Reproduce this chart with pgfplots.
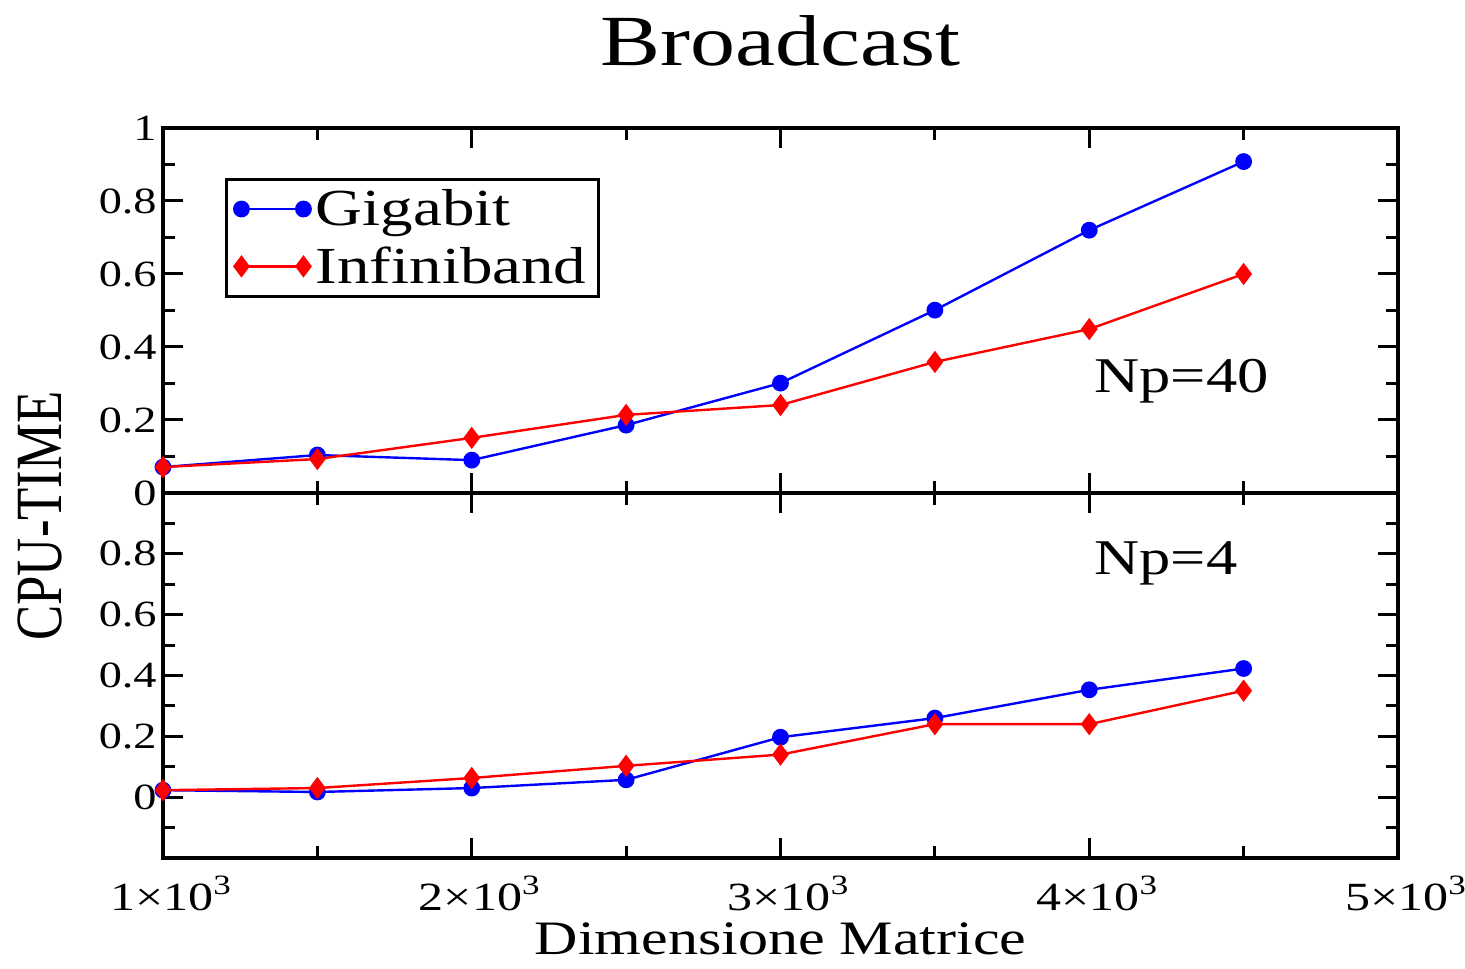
\documentclass[border=0pt]{standalone}
\usepackage{fontspec}
\setmainfont{Liberation Serif}[FakeStretch=1.25]
\newfontfamily\ylabfont{Liberation Serif}[FakeStretch=0.8]
\usepackage{pgfplots}
\pgfplotsset{compat=1.18}
\pgfplotsset{
  panel/.style={
    scale only axis, width=617.5pt, height=182.5pt,
    xmin=1000, xmax=5000,
    xtick={1000,2000,3000,4000,5000},
    minor xtick={1500,2500,3500,4500},
    tick align=inside, xtick pos=both, ytick pos=both,
    major tick length=10pt, minor tick length=6pt,
    axis line style={line width=1.8pt},
    every tick/.style={black, line width=1.5pt},
    /pgf/number format/assume math mode=true,
    yticklabel style={font=\fontsize{18.5}{20}\selectfont, anchor=east, inner sep=1pt, xshift=-2pt},
    clip=false,
  },
  gig/.style={blue, line width=1.2pt, mark=*, mark size=3.6pt, mark options={fill=blue, draw=blue}},
  inf/.style={red, line width=1.2pt, mark=diamond*, mark size=4.6pt, mark options={fill=red, draw=red}},
}
\begin{document}
\begin{tikzpicture}
% bottom panel (Np=4)
\begin{axis}[panel, at={(0pt,0pt)}, anchor=south west,
  ymin=-0.2, ymax=1,
  ytick={0,0.2,0.4,0.6,0.8},
  minor ytick={-0.1,0.1,0.3,0.5,0.7,0.9},
  xticklabels={1×10\textsuperscript{3},2×10\textsuperscript{3},3×10\textsuperscript{3},4×10\textsuperscript{3},5×10\textsuperscript{3}},
  xticklabel style={font=\fontsize{20}{22}\selectfont, anchor=base, inner sep=0pt, text depth=0pt, yshift=-26pt, xshift=4pt},
  xlabel={Dimensione Matrice},
  xlabel style={font=\fontsize{24}{26}\selectfont, at={(0.5,0)}, anchor=base, inner sep=0pt, text depth=0pt, yshift=-48pt},
]
\addplot[gig] coordinates {(1000,0.023)(1500,0.017)(2000,0.03)(2500,0.057)(3000,0.197)(3500,0.26)(4000,0.353)(4500,0.423)};
\addplot[inf] coordinates {(1000,0.023)(1500,0.03)(2000,0.063)(2500,0.103)(3000,0.14)(3500,0.24)(4000,0.24)(4500,0.35)};
\node[anchor=base west, font=\fontsize{25}{28}\selectfont, inner sep=0pt] at (axis cs:4016,0.733) {Np=4};
\end{axis}
% top panel (Np=40)
\begin{axis}[panel, at={(0pt,182.5pt)}, anchor=south west,
  ymin=0, ymax=1,
  ytick={0,0.2,0.4,0.6,0.8,1},
  minor ytick={0.1,0.3,0.5,0.7,0.9},
  xticklabels={},
  title={Broadcast},
  title style={font=\fontsize{36}{40}\selectfont, at={(0.5,1)}, anchor=base, yshift=25pt},
  legend style={at={(0.05,0.863)}, anchor=north west, draw=black, line width=1.5pt,
    font=\fontsize{26}{28}\selectfont, inner xsep=4pt, inner ysep=3pt,
    row sep=5pt, cells={anchor=west}},
  legend image code/.code={\draw[#1] plot coordinates {(0pt,0pt) (31pt,0pt)}; \path (34.5pt,0pt);},
]
\addplot[gig] coordinates {(1000,0.071)(1500,0.104)(2000,0.09)(2500,0.186)(3000,0.301)(3500,0.501)(4000,0.72)(4500,0.908)};
\addlegendentry{Gigabit}
\addplot[inf] coordinates {(1000,0.071)(1500,0.093)(2000,0.151)(2500,0.214)(3000,0.241)(3500,0.359)(4000,0.449)(4500,0.60)};
\addlegendentry{Infiniband}
\node[anchor=base west, font=\fontsize{25}{28}\selectfont, inner sep=0pt] at (axis cs:4016,0.274) {Np=40};
\end{axis}
\node[rotate=90, font=\ylabfont\fontsize{33}{36}\selectfont, inner sep=0pt] at (-61.5pt,171pt) {CPU-TIME};
\pgfresetboundingbox
\path[use as bounding box] (-81.5pt,-55pt) rectangle (651pt,429pt);
\end{tikzpicture}
\end{document}
